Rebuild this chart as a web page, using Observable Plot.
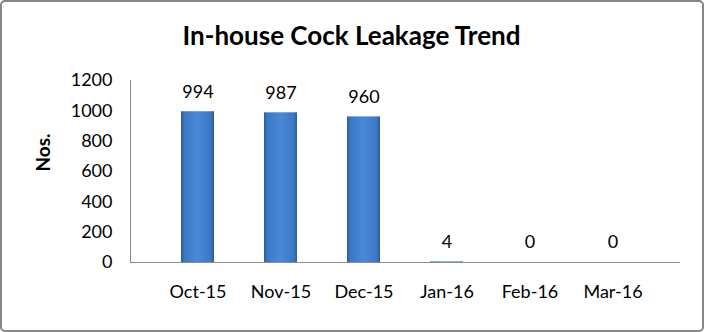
<!DOCTYPE html>
<html><head><meta charset="utf-8">
<script src="https://cdn.jsdelivr.net/npm/d3@7"></script>
<script src="https://cdn.jsdelivr.net/npm/@observablehq/plot@0.6"></script>
<style>
body{margin:0;background:#fff;}
#wrap{position:relative;width:704px;height:332px;box-sizing:border-box;border:2px solid #868686;border-radius:5px;overflow:hidden;background:#fff;}
#wrap svg{font-family:Lato, "Liberation Sans", sans-serif;}
</style></head>
<body>
<svg width="0" height="0" style="position:absolute">
  <defs>
    <linearGradient id="barGrad" x1="0" x2="1" y1="0" y2="0">
      <stop offset="0%" stop-color="#2b5c9c"/>
      <stop offset="10%" stop-color="#3b77c4"/>
      <stop offset="50%" stop-color="#4a89d8"/>
      <stop offset="90%" stop-color="#3b77c4"/>
      <stop offset="100%" stop-color="#2b5c9c"/>
    </linearGradient>
  </defs>
</svg>
<div id="wrap"></div>
<script>
const months = ["Oct-15","Nov-15","Dec-15","Jan-16","Feb-16","Mar-16"];
const values = [994, 987, 960, 4, 0, 0];
const yTicks = [0,200,400,600,800,1000,1200];
const title = "In-house Cock Leakage Trend";
const yLabel = "Nos.";

const data = months.map((m,i)=>({month:m, value:values[i]}));

const chart = Plot.plot({
  width: 700,
  height: 328,
  marginLeft: 128,
  marginRight: 22,
  marginTop: 78,
  marginBottom: 68,
  style: {fontSize: "18px", color: "#000", background: "transparent"},
  x: {domain: months, padding: 0.6, label: null},
  y: {domain: [0,1200], ticks: yTicks, label: null},
  marks: [
    Plot.axisY({ticks: yTicks, tickSize: 0, tickPadding: 18, fontSize: 18, tickFormat: d3.format("d"), label: null}),
    Plot.axisX({tickSize: 0, tickPadding: 23, fontSize: 18, label: null}),
    Plot.barY(data, {x: "month", y: "value", fill: "url(#barGrad)"}),
    Plot.ruleY([0], {stroke: "#8c8c8c"}),
    Plot.frame({anchor: "left", stroke: "#8c8c8c"}),
    Plot.text(data, {x: "month", y: "value", text: d => String(d.value), dy: -20, fontSize: 18, fill: "#000"}),
    Plot.text([yLabel], {frameAnchor: "left", dx: -87, rotate: -90, fontSize: 19, fontWeight: "bold", fill: "#000"}),
    Plot.text([title], {frameAnchor: "top", lineAnchor: "middle", dx: -54, dy: -44, fontSize: 26, fontWeight: "bold", fill: "#000"})
  ]
});
document.getElementById("wrap").appendChild(chart);
</script>
</body></html>
